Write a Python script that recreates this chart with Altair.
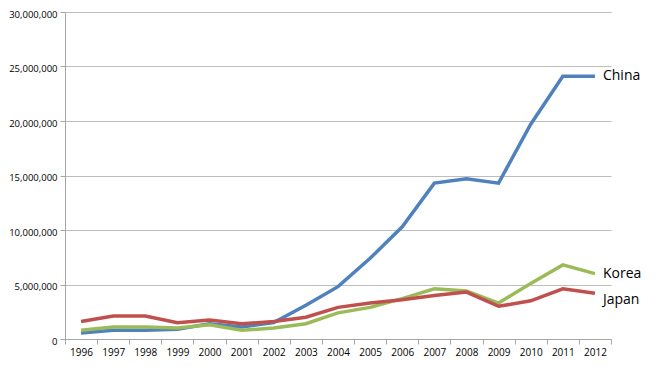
import altair as alt
import pandas as pd

years = [str(y) for y in range(1996, 2013)]
china = [550000, 800000, 800000, 900000, 1400000, 1100000, 1500000, 3100000, 4800000,
         7400000, 10300000, 14300000, 14700000, 14300000, 19700000, 24100000, 24100000]
japan = [1600000, 2100000, 2100000, 1500000, 1750000, 1400000, 1600000, 2000000, 2900000,
         3300000, 3600000, 4000000, 4300000, 3000000, 3500000, 4600000, 4200000]
korea = [800000, 1100000, 1100000, 1000000, 1300000, 800000, 1000000, 1400000, 2400000,
         2900000, 3700000, 4600000, 4400000, 3300000, 5100000, 6800000, 6000000]
series = ["China", "Korea", "Japan"]
colors = ["#4F81BD", "#9BBB59", "#C0504D"]

rows = []
for name, vals in zip(series, [china, korea, japan]):
    for y, v in zip(years, vals):
        rows.append({"year": y, "value": v, "country": name})
df = pd.DataFrame(rows)

FONT = "Open Sans"

x = alt.X("year:O", bandPosition=0.5,
          scale=alt.Scale(type="band", paddingInner=0, paddingOuter=0),
          axis=alt.Axis(title=None, labelAngle=0, tickBand="extent", tickSize=5,
                        labelPadding=3, domainColor="#a6a6a6", tickColor="#a6a6a6",
                        labelFont=FONT, labelFontSize=10, labelColor="#000000", grid=False))
y = alt.Y("value:Q", scale=alt.Scale(domain=[0, 30000000], nice=False),
          axis=alt.Axis(title=None, values=[0, 5000000, 10000000, 15000000, 20000000, 25000000, 30000000],
                        format=",d", tickSize=5, labelPadding=3, labelOffset=2,
                        domainColor="#a6a6a6",
                        tickColor="#a6a6a6", gridColor="#bdbdbd", gridWidth=1,
                        labelFont=FONT, labelFontSize=9.5, labelColor="#000000"))
color = alt.Color("country:N", scale=alt.Scale(domain=series, range=colors), legend=None)

base = alt.Chart(df)
lines = base.mark_line(strokeWidth=3.5).encode(x=x, y=y, color=color)

last = base.transform_filter(alt.datum.year == "2012")
lab_up = last.transform_filter(alt.datum.country != "Japan").mark_text(
    align="left", baseline="middle", dx=8, font=FONT, fontSize=14, color="#000000"
).encode(x=x, y=y, text="country:N")
lab_jp = last.transform_filter(alt.datum.country == "Japan").mark_text(
    align="left", baseline="middle", dx=8, dy=7, font=FONT, fontSize=14, color="#000000"
).encode(x=x, y=y, text="country:N")

chart = alt.layer(lines, lab_up, lab_jp).properties(
    width=546, height=327,
    autosize=alt.AutoSizeParams(type="none"),
    padding={"left": 57, "top": 4, "right": 37, "bottom": 19},
).configure(background="#ffffff").configure_view(stroke=None)

chart.save("out.html", embed_options={"renderer": "svg", "actions": False})
